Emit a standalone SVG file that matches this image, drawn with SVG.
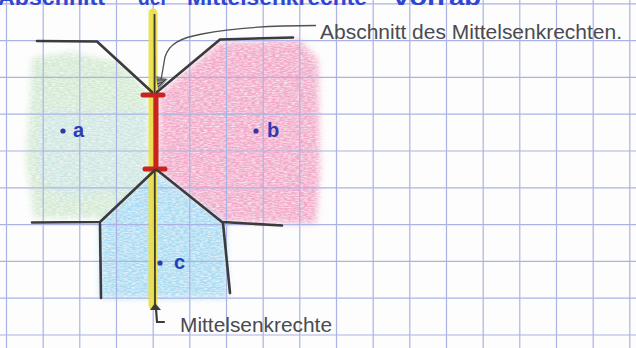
<svg xmlns="http://www.w3.org/2000/svg" width="636" height="348" viewBox="0 0 636 348">
<defs>
<style>
.grid line{stroke:#aab3e4;stroke-width:1.2}
.pen{fill:none;stroke:#3b3b3d;stroke-width:2.6;stroke-linecap:round;stroke-linejoin:round}
.hand{font-family:"Liberation Sans","DejaVu Sans",sans-serif;fill:#4a4a50}
.blue{font-family:"Liberation Sans","DejaVu Sans",sans-serif;fill:#3146d0;font-weight:bold}
.pt{fill:#2a3aa8}
.ptl{font-family:"Liberation Sans","DejaVu Sans",sans-serif;fill:#2c3cb4;font-size:20px;font-weight:bold}
.red{stroke:#c8231e;stroke-linecap:round}
</style>
<filter id="crayon" x="-10%" y="-10%" width="120%" height="120%">
<feTurbulence type="fractalNoise" baseFrequency="0.25 0.8" numOctaves="2" seed="3" result="n"/>
<feColorMatrix in="n" type="matrix" values="0 0 0 0 0  0 0 0 0 0  0 0 0 0 0  0 0 0 1.4 0.05" result="a"/>
<feGaussianBlur in="SourceGraphic" stdDeviation="3" result="b"/>
<feComposite in="b" in2="a" operator="in"/>
</filter>
</defs>
<rect width="636" height="348" fill="#fdfdfd"/>
<g id="fills" filter="url(#crayon)">
<polygon id="region-a" points="32,58 70,52 120,62 148,92 150,200 110,218 34,218 26,160 30,100" fill="#d3e9d2"/>
<polygon id="region-a2" points="40,110 148,110 148,190 60,200 36,170" fill="#cde5e3" opacity="0.8"/>
<polygon id="region-b" points="160,94 220,42 300,40 318,60 320,170 316,224 224,222 158,170" fill="#f2a8c8"/>
<polygon id="region-c" points="155,172 100,222 100,298 228,298 226,222" fill="#a9daf2"/>
</g>
<g class="grid">
<line x1="6.5" y1="0" x2="6.5" y2="348"/><line x1="43.2" y1="0" x2="43.2" y2="348"/><line x1="79.8" y1="0" x2="79.8" y2="348"/><line x1="116.5" y1="0" x2="116.5" y2="348"/><line x1="153.2" y1="0" x2="153.2" y2="348"/><line x1="189.8" y1="0" x2="189.8" y2="348"/><line x1="226.5" y1="0" x2="226.5" y2="348"/><line x1="263.2" y1="0" x2="263.2" y2="348"/><line x1="299.8" y1="0" x2="299.8" y2="348"/><line x1="336.5" y1="0" x2="336.5" y2="348"/><line x1="373.2" y1="0" x2="373.2" y2="348"/><line x1="409.8" y1="0" x2="409.8" y2="348"/><line x1="446.5" y1="0" x2="446.5" y2="348"/><line x1="483.2" y1="0" x2="483.2" y2="348"/><line x1="519.8" y1="0" x2="519.8" y2="348"/><line x1="556.5" y1="0" x2="556.5" y2="348"/><line x1="593.2" y1="0" x2="593.2" y2="348"/><line x1="629.8" y1="0" x2="629.8" y2="348"/>
<line x1="0" y1="3.8" x2="636" y2="3.8"/><line x1="0" y1="40.6" x2="636" y2="40.6"/><line x1="0" y1="77.4" x2="636" y2="77.4"/><line x1="0" y1="114.2" x2="636" y2="114.2"/><line x1="0" y1="151" x2="636" y2="151"/><line x1="0" y1="187.8" x2="636" y2="187.8"/><line x1="0" y1="224.6" x2="636" y2="224.6"/><line x1="0" y1="261.4" x2="636" y2="261.4"/><line x1="0" y1="298.2" x2="636" y2="298.2"/><line x1="0" y1="335" x2="636" y2="335"/>
</g>
<g id="title">
<text class="blue" font-size="22" x="-2" y="5" textLength="107" lengthAdjust="spacingAndGlyphs">Abschnitt</text>
<text class="blue" font-size="22" x="138" y="5" textLength="30" lengthAdjust="spacingAndGlyphs">der</text>
<text class="blue" font-size="22" x="187" y="5" textLength="180" lengthAdjust="spacingAndGlyphs">Mittelsenkrechte</text>
<text class="blue" font-size="22" x="393" y="5" textLength="52" lengthAdjust="spacingAndGlyphs">von</text>
<text class="blue" font-size="22" x="449" y="5" textLength="32" lengthAdjust="spacingAndGlyphs">ab</text>
</g>
<g id="bisector">
<line x1="153" y1="13" x2="153" y2="305" stroke="#ece040" stroke-width="9" stroke-linecap="round" opacity="0.9"/>
<line x1="154.5" y1="14" x2="155" y2="308" stroke="#3d3a30" stroke-width="1.8"/>
<line class="red" x1="156" y1="95" x2="156" y2="169" stroke-width="5"/>
<line class="red" x1="143" y1="95" x2="163" y2="95" stroke-width="5"/>
<line class="red" x1="145" y1="169" x2="165" y2="169" stroke-width="5"/>
</g>
<g id="edges">
<polyline class="pen" points="37,41 97,41.5 152,92"/>
<polyline class="pen" points="157,92 220,39.5 293,37.5"/>
<polyline class="pen" points="155,170 100,222 32,222.5"/>
<polyline class="pen" points="100,224 101,298"/>
<polyline class="pen" points="157,170 222,222 282,225.5"/>
<polyline class="pen" points="223,223 230,293"/>
</g>
<g id="angle-mark">
<polygon points="156,76 168,79 158,90" fill="#6a6a70" opacity="0.75"/>
<path d="M157,80 L165,80 M157,84 L163,82 M158,87 L166,79" stroke="#333" stroke-width="0.8" fill="none"/>
</g>
<g id="points">
<circle class="pt" cx="63" cy="131" r="2.6"/>
<text class="ptl" x="73" y="137">a</text>
<circle class="pt" cx="256" cy="131" r="2.6"/>
<text class="ptl" x="267" y="137">b</text>
<circle class="pt" cx="160" cy="263" r="2.6"/>
<text class="ptl" x="174" y="269">c</text>
</g>
<g id="labels">
<path d="M316,25.5 C 280,25.5 232,28 202,34 C 180,38 169,44 165,57 L 161,80" fill="none" stroke="#505055" stroke-width="1.3"/>
<text class="hand" x="320" y="38.5" font-size="21" textLength="302" lengthAdjust="spacingAndGlyphs">Abschnitt des Mittelsenkrechten.</text>
<path d="M150,310 L155,303 L161,310 Z" fill="#3b3b3d"/>
<path d="M156,309 L157,322 L164,322" fill="none" stroke="#3b3b3d" stroke-width="2.2" stroke-linecap="round"/>
<text class="hand" x="180" y="332" font-size="20" textLength="152" lengthAdjust="spacingAndGlyphs">Mittelsenkrechte</text>
</g>
</svg>
